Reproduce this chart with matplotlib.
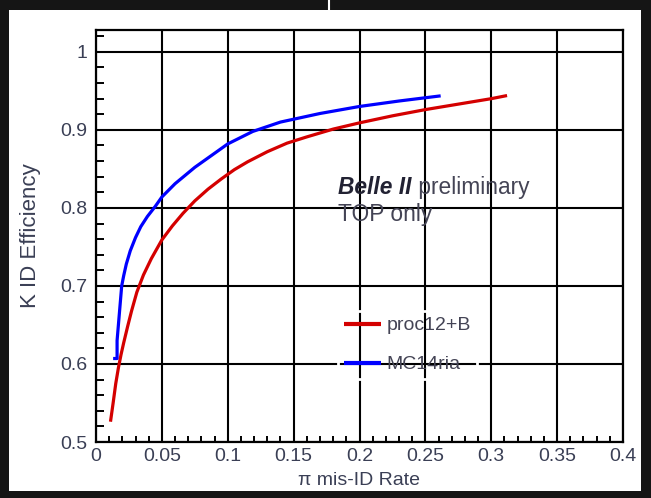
import matplotlib
matplotlib.use("Agg")
import matplotlib.pyplot as plt
from matplotlib.patches import Rectangle
from matplotlib.lines import Line2D
from matplotlib.ticker import MultipleLocator

# K efficiency vs pion mis-ID rate
proc12_x = [0.011, 0.013, 0.015, 0.017, 0.019, 0.021, 0.024, 0.027, 0.031, 0.036,
            0.042, 0.050, 0.058, 0.066, 0.075, 0.085, 0.095, 0.105, 0.115, 0.130,
            0.145, 0.160, 0.180, 0.200, 0.225, 0.250, 0.275, 0.300, 0.312]
proc12_y = [0.526, 0.550, 0.575, 0.595, 0.612, 0.627, 0.648, 0.668, 0.692, 0.714,
            0.735, 0.759, 0.777, 0.793, 0.809, 0.824, 0.837, 0.849, 0.859, 0.872,
            0.883, 0.891, 0.901, 0.909, 0.918, 0.926, 0.933, 0.940, 0.944]

mc14_x = [0.013, 0.016, 0.016, 0.017, 0.018, 0.0195, 0.021, 0.023, 0.026, 0.030,
          0.034, 0.039, 0.045, 0.050, 0.060, 0.075, 0.090, 0.100, 0.119, 0.140,
          0.170, 0.200, 0.230, 0.2616]
mc14_y = [0.607, 0.607, 0.630, 0.650, 0.670, 0.700, 0.713, 0.728, 0.745, 0.762,
          0.776, 0.789, 0.802, 0.814, 0.831, 0.852, 0.870, 0.882, 0.898, 0.910,
          0.921, 0.930, 0.937, 0.9436]

x_ticks = [0, 0.05, 0.1, 0.15, 0.2, 0.25, 0.3, 0.35, 0.4]
x_labels = ["0", "0.05", "0.1", "0.15", "0.2", "0.25", "0.3", "0.35", "0.4"]
y_ticks = [0.5, 0.6, 0.7, 0.8, 0.9, 1.0]
y_labels = ["0.5", "0.6", "0.7", "0.8", "0.9", "1"]

plt.rcParams["font.family"] = ["Liberation Sans", "DejaVu Sans"]
label_col = "#3a3f55"
text_col = "#444455"

fig = plt.figure(figsize=(6.51, 4.98), dpi=100, facecolor="#151515")
fig.add_artist(Rectangle((9 / 651, 7 / 498), 632 / 651, 481 / 498,
                         transform=fig.transFigure, facecolor="white",
                         edgecolor="none", zorder=0))
fig.add_artist(Line2D([329 / 651, 329 / 651], [488 / 498, 1.0],
                      transform=fig.transFigure, color="white", lw=1.5))

ax = fig.add_axes([96 / 651, 56 / 498, 527 / 651, 412 / 498])
ax.set_xlim(0, 0.4)
ax.set_ylim(0.5, 1.028)

ax.plot(proc12_x, proc12_y, color="#d40000", lw=2.3,
        solid_capstyle="butt", label="proc12+B", zorder=3)
ax.plot(mc14_x, mc14_y, color="#0000ff", lw=2.3,
        solid_capstyle="butt", label="MC14ria", zorder=3)

ax.set_xticks(x_ticks)
ax.set_xticklabels(x_labels)
ax.set_yticks(y_ticks)
ax.set_yticklabels(y_labels)
ax.xaxis.set_minor_locator(MultipleLocator(0.01))
ax.yaxis.set_minor_locator(MultipleLocator(0.02))
ax.tick_params(which="both", direction="in", width=1.4, colors="black",
               labelcolor=label_col, labelsize=14)
ax.tick_params(axis="x", which="major", length=0, pad=4)
ax.tick_params(axis="y", which="major", length=0, pad=6)
ax.tick_params(axis="x", which="minor", length=4.5)
ax.tick_params(axis="y", which="minor", length=6)
ax.grid(True, which="major", color="black", lw=1.5)
for s in ax.spines.values():
    s.set_linewidth(1.6)

ax.set_xlabel("π mis-ID Rate", fontsize=14, color=label_col, labelpad=5)
ax.set_ylabel("K ID Efficiency", fontsize=16, color=label_col, labelpad=14)

t = ax.text(0.184, 0.826, "Belle II", fontsize=16.4, fontweight="bold",
            fontstyle="italic", color="#222233", va="center", ha="left")
ax.annotate(" preliminary", xy=(1, 0), xycoords=t, fontsize=16.4,
            color=text_col, va="bottom", ha="left")
ax.text(0.184, 0.791, "TOP only", fontsize=16.4, color=text_col,
        va="center", ha="left")

leg = ax.legend(loc="upper left", bbox_to_anchor=(0.459, 0.318), fontsize=14,
                handlelength=1.9, handletextpad=0.3, labelspacing=1.1,
                borderpad=0.3, borderaxespad=0, fancybox=False,
                facecolor="none", edgecolor="white", framealpha=1)
leg.get_frame().set_linewidth(2)
for line in leg.get_lines():
    line.set_linewidth(3)
for txt in leg.get_texts():
    txt.set_color(text_col)

fig.savefig("out.png", dpi=100, facecolor=fig.get_facecolor())
